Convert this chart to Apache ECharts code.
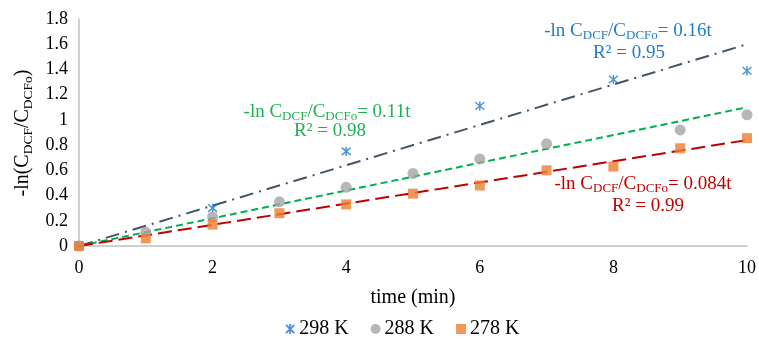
<!DOCTYPE html>
<html><head><meta charset="utf-8">
<script src="https://cdn.jsdelivr.net/npm/echarts@6/dist/echarts.min.js"></script>
<style>html,body{margin:0;padding:0;background:#fff}#c{width:759px;height:347px}</style>
</head><body><div id="c"></div>
<script>
const time = [0,1,2,3,4,5,6,7,8,9,10];
const k298 = [0,null,0.30,null,0.75,null,1.11,null,1.32,null,1.39];
const k288 = [0,0.11,0.23,0.35,0.465,0.575,0.69,0.81,null,0.92,1.04];
const k278 = [0,0.06,0.17,0.26,0.33,0.415,0.48,0.60,0.63,0.775,0.855];
const seriesNames = ['298 K','288 K','278 K'];
const slopes = [0.16, 0.11, 0.084];
const r2 = ['0.95','0.98','0.99'];

const font = '"Liberation Serif","Times New Roman",serif';
const pts = arr => time.map((t,i)=>[t,arr[i]]).filter(p=>p[1]!==null);
const trend = s => [[0,0],[10,s*10]];
const star = 'path://M-1,-1L1,1M-1,1L1,-1M0,-1.2L0,1.2';

const eqRich = c => ({
  n:{fontFamily:font,fontSize:19,fill:c,color:c},
  s:{fontFamily:font,fontSize:13,fill:c,color:c,verticalAlign:'bottom',padding:[9,0,0,0]}
});
function eq(slope,r,c,x1,y1,x2,y2){
  return [{
    type:'text', x:x1, y:y1,
    style:{text:'{n|-ln C}{s|DCF}{n|/C}{s|DCFo}{n|= '+slope+'t}',
      rich:eqRich(c), fill:c, align:'center', verticalAlign:'middle'}
  },{
    type:'text', x:x2, y:y2,
    style:{text:'R² = '+r, fontFamily:font, fontSize:19, fill:c, align:'center', verticalAlign:'middle'}
  }];
}

const chart = echarts.init(document.getElementById('c'));
chart.setOption({
  animation:false,
  grid:{left:79,right:11,top:19,bottom:101},
  xAxis:{type:'value',min:0,max:10,interval:2,
    name:'time (min)',nameLocation:'middle',nameGap:42,
    nameTextStyle:{fontFamily:font,fontSize:20,color:'#000'},
    axisLine:{lineStyle:{color:'#bfbfbf',width:1.5}},axisTick:{show:false},
    splitLine:{show:false},
    axisLabel:{fontFamily:font,fontSize:18,color:'#000',margin:13}},
  yAxis:{type:'value',min:0,max:1.8,interval:0.2,
    axisLine:{show:true,lineStyle:{color:'#bfbfbf',width:1.5}},axisTick:{show:false},
    splitLine:{show:false},
    axisLabel:{fontFamily:font,fontSize:18,color:'#000',margin:11,
      formatter:v=>String(Math.round(v*10)/10)}},
  legend:{bottom:3,left:280,itemGap:22,itemWidth:10,itemHeight:10,
    data:seriesNames,
    textStyle:{fontFamily:font,fontSize:20,color:'#000',padding:[0,0,0,-1]}},
  graphic:[
    {type:'text',x:23,y:133,rotation:Math.PI/2,
      style:{text:'{n|-ln(C}{s|DCF}{n|/C}{s|DCFo}{n|)}',align:'center',verticalAlign:'middle',
        rich:{n:{fontFamily:font,fontSize:20,fill:'#000'},
              s:{fontFamily:font,fontSize:13.5,fill:'#000',verticalAlign:'bottom',padding:[10,0,0,0]}}}}
  ].concat(eq(slopes[0],r2[0],'#1f7ad0',628,31,629,53))
   .concat(eq(slopes[1],r2[1],'#1fb050',327,112,330,131))
   .concat(eq(slopes[2],r2[2],'#c00000',643,184,648,206)),
  series:[
    {name:'T298',type:'line',data:trend(slopes[0]),showSymbol:false,symbol:'none',z:1,
      lineStyle:{color:'#44546a',width:2,type:[14,6,2,6]}},
    {name:'T288',type:'line',data:trend(slopes[1]),showSymbol:false,symbol:'none',z:1,
      lineStyle:{color:'#00b050',width:2,type:[7,4]}},
    {name:'T278',type:'line',data:trend(slopes[2]),showSymbol:false,symbol:'none',z:1,
      lineStyle:{color:'#c00000',width:2,type:[14,6]}},
    {name:seriesNames[0],type:'scatter',data:pts(k298),symbol:star,symbolSize:9,z:3,
      itemStyle:{color:'rgba(0,0,0,0)',borderColor:'#1f7ad0',borderWidth:1.5}},
    {name:seriesNames[1],type:'scatter',data:pts(k288),symbol:'circle',symbolSize:11,z:3,
      itemStyle:{color:'#a5a5a5'}},
    {name:seriesNames[2],type:'scatter',data:pts(k278),symbol:'rect',symbolSize:10,z:3,
      itemStyle:{color:'#ed7d31'}}
  ]
});
</script></body></html>
